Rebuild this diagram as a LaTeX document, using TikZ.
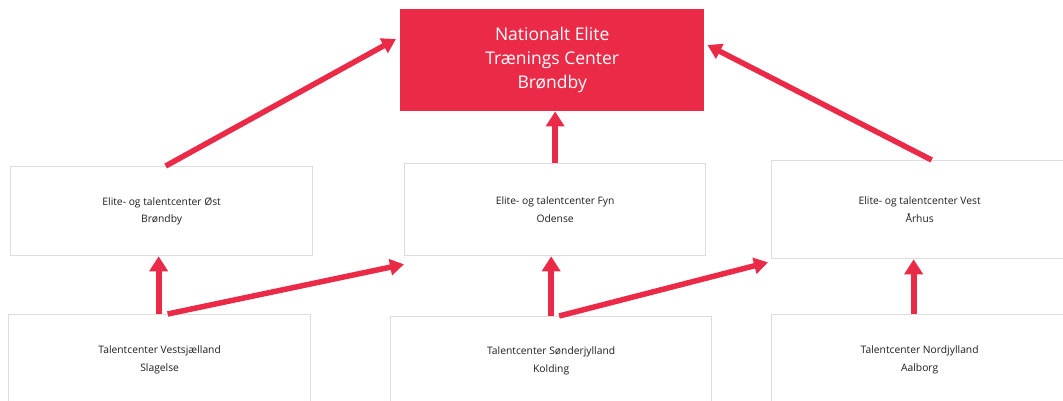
\documentclass[tikz,border=0pt]{standalone}
\usepackage{fontspec}
\setmainfont{Open Sans}
\usetikzlibrary{arrows.meta}
\definecolor{dgired}{HTML}{EB2A48}
\definecolor{boxgray}{HTML}{DDDDDD}
\definecolor{txtgray}{HTML}{1E1E1E}
\tikzset{
  box/.style={draw=boxgray, line width=1.3pt, fill=white, inner sep=0pt, anchor=north west,
    align=center, text=txtgray, font=\fontsize{10.3}{17.5}\selectfont},
  topbox/.style={fill=dgired, inner sep=0pt, anchor=north west, align=center,
    text=white, font=\fontsize{17.5}{24}\selectfont},
  arr/.style={draw=dgired, line width=6pt, -{Triangle[width=18pt,length=15pt]}},
  arrd/.style={draw=dgired, line width=5.5pt, -{Triangle[width=16pt,length=14pt]}},
}
\begin{document}
\begin{tikzpicture}[x=1pt,y=-1pt]
\useasboundingbox (0,0) rectangle (1063,401);
\clip (0,0) rectangle (1063,401);
\fill[white] (0,0) rectangle (1063,401);
\node[topbox, minimum width=304pt, minimum height=102pt] (top) at (400,9) {Nationalt Elite\\Trænings Center\\Brøndby};
\node[box, minimum width=302pt, minimum height=89pt] (ml) at (10,166) {Elite- og talentcenter Øst\\Brøndby};
\node[box, minimum width=301pt, minimum height=92pt] (mc) at (404,163) {Elite- og talentcenter Fyn\\Odense};
\node[box, minimum width=296pt, minimum height=98pt] (mr) at (771,160) {Elite- og talentcenter Vest\\Århus};
\node[box, minimum width=302pt, minimum height=90pt] (bl) at (8,314) {Talentcenter Vestsjælland\\Slagelse};
\node[box, minimum width=321pt, minimum height=88pt] (bc) at (390,316) {Talentcenter Sønderjylland\\Kolding};
\node[box, minimum width=296pt, minimum height=90pt] (br) at (771,314) {Talentcenter Nordjylland\\Aalborg};
% arrows
\draw[arrd] ([xshift=4pt]ml.north) -- ([xshift=-4pt,yshift=-30pt]top.north west);
\draw[arr] (mc.north) -- (mc.north |- top.south);
\draw[arrd] ([xshift=12pt]mr.north) -- ([xshift=3pt,yshift=-36pt]top.north east);
\draw[arr] ([xshift=-1pt]bl.north) -- ([xshift=-1pt]bl.north |- ml.south);
\draw[arrd] ([xshift=8pt]bl.north) -- ([yshift=-8pt]mc.south west);
\draw[arr] (bc.north) -- (bc.north |- mc.south);
\draw[arrd] ([xshift=8pt]bc.north) -- ([xshift=-3pt,yshift=-3pt]mr.south west);
\draw[arr] ([xshift=-6pt]br.north) -- ([xshift=-6pt]br.north |- mr.south);
\end{tikzpicture}
\end{document}
